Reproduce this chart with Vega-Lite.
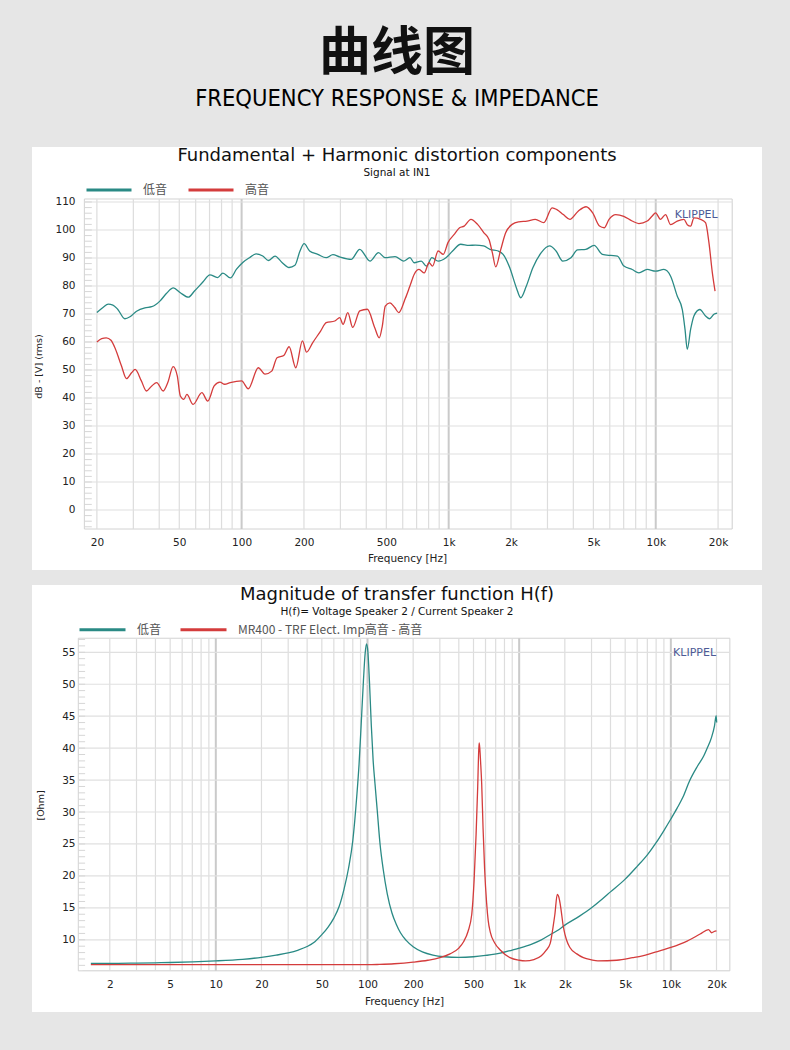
{
"$schema": "https://vega.github.io/schema/vega-lite/v6.json",
"background": "#e6e6e6",
"padding": {"left": 32, "top": 27, "right": 28, "bottom": 39},
"title": {"text": "曲线图", "subtitle": "FREQUENCY RESPONSE & IMPEDANCE", "font": "Noto Sans CJK SC", "fontSize": 52, "fontWeight": "bold", "color": "#111", "subtitleFont": "Liberation Sans Narrow, DejaVu Sans Condensed, sans-serif", "subtitleFontSize": 23.5, "subtitleFontWeight": "normal", "subtitleColor": "#000", "subtitlePadding": 6, "anchor": "middle", "frame": "group", "offset": 36},
"spacing": 15,
"resolve": {"scale": {"color": "independent"}, "legend": {"color": "independent"}},
"config": {"view": {"fill": "white", "stroke": null}, "font": "DejaVu Sans"},
"datasets": {
"tx_minor": [{"g":20},{"g":30},{"g":40},{"g":50},{"g":60},{"g":70},{"g":80},{"g":90},{"g":200},{"g":300},{"g":400},{"g":500},{"g":600},{"g":700},{"g":800},{"g":900},{"g":2000},{"g":3000},{"g":4000},{"g":5000},{"g":6000},{"g":7000},{"g":8000},{"g":9000},{"g":20000}],
"tx_major": [{"g":100},{"g":1000},{"g":10000}],
"ty": [{"g":0},{"g":10},{"g":20},{"g":30},{"g":40},{"g":50},{"g":60},{"g":70},{"g":80},{"g":90},{"g":100},{"g":110}],
"tyt": [{"g":-6},{"g":-4},{"g":-2},{"g":0},{"g":2},{"g":4},{"g":6},{"g":8},{"g":10},{"g":12},{"g":14},{"g":16},{"g":18},{"g":20},{"g":22},{"g":24},{"g":26},{"g":28},{"g":30},{"g":32},{"g":34},{"g":36},{"g":38},{"g":40},{"g":42},{"g":44},{"g":46},{"g":48},{"g":50},{"g":52},{"g":54},{"g":56},{"g":58},{"g":60},{"g":62},{"g":64},{"g":66},{"g":68},{"g":70},{"g":72},{"g":74},{"g":76},{"g":78},{"g":80},{"g":82},{"g":84},{"g":86},{"g":88},{"g":90},{"g":92},{"g":94},{"g":96},{"g":98},{"g":100},{"g":102},{"g":104},{"g":106},{"g":108},{"g":110}],
"bx_minor": [{"g":2},{"g":3},{"g":4},{"g":5},{"g":6},{"g":7},{"g":8},{"g":9},{"g":20},{"g":30},{"g":40},{"g":50},{"g":60},{"g":70},{"g":80},{"g":90},{"g":200},{"g":300},{"g":400},{"g":500},{"g":600},{"g":700},{"g":800},{"g":900},{"g":2000},{"g":3000},{"g":4000},{"g":5000},{"g":6000},{"g":7000},{"g":8000},{"g":9000},{"g":20000}],
"bx_major": [{"g":10},{"g":100},{"g":1000},{"g":10000}],
"by": [{"g":10},{"g":15},{"g":20},{"g":25},{"g":30},{"g":35},{"g":40},{"g":45},{"g":50},{"g":55}],
"byt": [{"g":6},{"g":7},{"g":8},{"g":9},{"g":10},{"g":11},{"g":12},{"g":13},{"g":14},{"g":15},{"g":16},{"g":17},{"g":18},{"g":19},{"g":20},{"g":21},{"g":22},{"g":23},{"g":24},{"g":25},{"g":26},{"g":27},{"g":28},{"g":29},{"g":30},{"g":31},{"g":32},{"g":33},{"g":34},{"g":35},{"g":36},{"g":37},{"g":38},{"g":39},{"g":40},{"g":41},{"g":42},{"g":43},{"g":44},{"g":45},{"g":46},{"g":47},{"g":48},{"g":49},{"g":50},{"g":51},{"g":52},{"g":53},{"g":54},{"g":55},{"g":56},{"g":57}],
"top": [
{"s":"低音","f":20,"v":70.5},{"s":"低音","f":21.4,"v":72.3},{"s":"低音","f":22.7,"v":73.5},{"s":"低音","f":23.9,"v":73.2},{"s":"低音","f":25.2,"v":71.7},{"s":"低音","f":27.3,"v":68.3},{"s":"低音","f":28.9,"v":69.0},{"s":"低音","f":31.1,"v":71.0},{"s":"低音","f":34.1,"v":72.2},{"s":"低音","f":36.8,"v":72.6},{"s":"低音","f":40.3,"v":74.6},{"s":"低音","f":43.3,"v":77.3},{"s":"低音","f":46.8,"v":79.3},{"s":"低音","f":50.6,"v":77.6},{"s":"低音","f":55.3,"v":76.0},{"s":"低音","f":59.2,"v":78.2},{"s":"低音","f":65.0,"v":81.4},{"s":"低音","f":70.3,"v":84.0},{"s":"低音","f":76.5,"v":83.0},{"s":"低音","f":81.2,"v":84.6},{"s":"低音","f":88.3,"v":82.9},{"s":"低音","f":94.5,"v":86.0},{"s":"低音","f":101.3,"v":88.4},{"s":"低音","f":109.2,"v":90.1},{"s":"低音","f":117.5,"v":91.5},{"s":"低音","f":126.5,"v":90.7},{"s":"低音","f":135,"v":89.1},{"s":"低音","f":145,"v":90.7},{"s":"低音","f":156.7,"v":88.4},{"s":"低音","f":169.4,"v":86.6},{"s":"低音","f":181,"v":87.4},{"s":"低音","f":191.4,"v":92.5},{"s":"低音","f":200.4,"v":95.1},{"s":"低音","f":213,"v":92.5},{"s":"低音","f":233.4,"v":91.3},{"s":"低音","f":256,"v":90.1},{"s":"低音","f":276,"v":91.2},{"s":"低音","f":297,"v":90.4},{"s":"低音","f":338,"v":89.5},{"s":"低音","f":372,"v":93.1},{"s":"低音","f":417,"v":88.9},{"s":"低音","f":458,"v":91.9},{"s":"低音","f":493,"v":90.1},{"s":"低音","f":551,"v":90.5},{"s":"低音","f":605,"v":88.9},{"s":"低音","f":650,"v":90.1},{"s":"低音","f":682,"v":88.3},{"s":"低音","f":737,"v":88.9},{"s":"低音","f":781,"v":87.1},{"s":"低音","f":830,"v":90.1},{"s":"低音","f":890,"v":88.9},{"s":"低音","f":970,"v":90.1},{"s":"低音","f":1045,"v":92.5},{"s":"低音","f":1143,"v":94.9},{"s":"低音","f":1253,"v":94.5},{"s":"低音","f":1346,"v":94.6},{"s":"低音","f":1473,"v":94.3},{"s":"低音","f":1584,"v":93.1},{"s":"低音","f":1734,"v":92.5},{"s":"低音","f":1832,"v":91.3},{"s":"低音","f":1973,"v":86.5},{"s":"低音","f":2122,"v":79.4},{"s":"低音","f":2228,"v":75.8},{"s":"低音","f":2370,"v":79.9},{"s":"低音","f":2550,"v":86.5},{"s":"低音","f":2800,"v":91.9},{"s":"低音","f":3070,"v":94.3},{"s":"低音","f":3300,"v":92.5},{"s":"低音","f":3555,"v":88.9},{"s":"低音","f":3895,"v":90.1},{"s":"低音","f":4190,"v":92.9},{"s":"低音","f":4595,"v":93.1},{"s":"低音","f":5040,"v":94.5},{"s":"低音","f":5525,"v":91.3},{"s":"低音","f":6060,"v":90.9},{"s":"低音","f":6530,"v":90.7},{"s":"低音","f":7020,"v":87.1},{"s":"低音","f":7700,"v":85.9},{"s":"低音","f":8290,"v":84.7},{"s":"低音","f":9100,"v":85.9},{"s":"低音","f":9980,"v":85.3},{"s":"低音","f":10950,"v":85.9},{"s":"低音","f":11800,"v":83.5},{"s":"低音","f":12700,"v":76.4},{"s":"低音","f":13440,"v":71.6},{"s":"低音","f":13850,"v":64.5},{"s":"低音","f":14200,"v":57.4},{"s":"低音","f":14740,"v":64.5},{"s":"低音","f":15290,"v":69.3},{"s":"低音","f":16330,"v":71.6},{"s":"低音","f":17400,"v":69.3},{"s":"低音","f":18200,"v":68.3},{"s":"低音","f":19100,"v":69.9},{"s":"低音","f":19800,"v":70.3},
{"s":"高音","f":20,"v":60.0},{"s":"高音","f":21.1,"v":61.2},{"s":"高音","f":22.2,"v":61.5},{"s":"高音","f":23.4,"v":60.6},{"s":"高音","f":24.6,"v":57.4},{"s":"高音","f":26.3,"v":51.4},{"s":"高音","f":27.8,"v":46.9},{"s":"高音","f":29.4,"v":49.0},{"s":"高音","f":30.6,"v":50.2},{"s":"高音","f":32.8,"v":46.1},{"s":"高音","f":34.7,"v":42.5},{"s":"高音","f":36.8,"v":44.3},{"s":"高音","f":38.9,"v":45.5},{"s":"高音","f":41.8,"v":42.5},{"s":"高音","f":44.0,"v":45.5},{"s":"高音","f":46.7,"v":51.2},{"s":"高音","f":48.9,"v":47.9},{"s":"高音","f":50.6,"v":40.7},{"s":"高音","f":52.6,"v":39.5},{"s":"高音","f":54.4,"v":41.3},{"s":"高音","f":58.3,"v":37.7},{"s":"高音","f":64.3,"v":41.9},{"s":"高音","f":68.6,"v":38.9},{"s":"高音","f":73.7,"v":44.3},{"s":"高音","f":78.6,"v":45.7},{"s":"高音","f":82.8,"v":44.9},{"s":"高音","f":88.1,"v":45.5},{"s":"高音","f":100,"v":46.1},{"s":"高音","f":107.7,"v":43.3},{"s":"高音","f":120.4,"v":50.8},{"s":"高音","f":129.7,"v":48.5},{"s":"高音","f":139.7,"v":49.6},{"s":"高音","f":148.3,"v":54.4},{"s":"高音","f":159.8,"v":55.2},{"s":"高音","f":169.6,"v":58.3},{"s":"高音","f":182.6,"v":50.8},{"s":"高音","f":196.7,"v":60.4},{"s":"高音","f":205.8,"v":56.4},{"s":"高音","f":220.6,"v":59.8},{"s":"高音","f":240.7,"v":63.9},{"s":"高音","f":256.2,"v":66.9},{"s":"高音","f":281.8,"v":67.5},{"s":"高音","f":297.8,"v":68.7},{"s":"高音","f":309,"v":66.3},{"s":"高音","f":325.6,"v":70.5},{"s":"高音","f":344,"v":65.2},{"s":"高音","f":372,"v":71.1},{"s":"高音","f":405,"v":71.7},{"s":"高音","f":439,"v":65.2},{"s":"高音","f":462,"v":61.5},{"s":"高音","f":478,"v":65.7},{"s":"高音","f":494,"v":72.8},{"s":"高音","f":520,"v":74.0},{"s":"高音","f":549,"v":72.3},{"s":"高音","f":574,"v":70.5},{"s":"高音","f":617,"v":75.5},{"s":"高音","f":650,"v":80},{"s":"高音","f":682,"v":84.2},{"s":"高音","f":719,"v":85.9},{"s":"高音","f":763,"v":84.7},{"s":"高音","f":804,"v":88.3},{"s":"高音","f":835,"v":87.1},{"s":"高音","f":890,"v":92.5},{"s":"高音","f":942,"v":91.3},{"s":"高音","f":992,"v":95.5},{"s":"高音","f":1069,"v":98.6},{"s":"高音","f":1129,"v":100.8},{"s":"高音","f":1188,"v":101.4},{"s":"高音","f":1281,"v":103.8},{"s":"高音","f":1379,"v":102.0},{"s":"高音","f":1480,"v":99.0},{"s":"高音","f":1566,"v":96.6},{"s":"高音","f":1626,"v":91.8},{"s":"高音","f":1688,"v":86.8},{"s":"高音","f":1784,"v":93.0},{"s":"高音","f":1885,"v":99.0},{"s":"高音","f":2026,"v":102},{"s":"高音","f":2183,"v":102.9},{"s":"高音","f":2390,"v":103.2},{"s":"高音","f":2620,"v":103.8},{"s":"高音","f":2880,"v":102.6},{"s":"高音","f":3160,"v":107.9},{"s":"高音","f":3330,"v":107.3},{"s":"高音","f":3580,"v":105.5},{"s":"高音","f":3850,"v":103.8},{"s":"高音","f":4220,"v":106.7},{"s":"高音","f":4610,"v":108.3},{"s":"高音","f":4960,"v":106.1},{"s":"高音","f":5350,"v":101.4},{"s":"高音","f":5640,"v":100.8},{"s":"高音","f":5950,"v":103.8},{"s":"高音","f":6410,"v":105.5},{"s":"高音","f":7010,"v":104.9},{"s":"高音","f":7690,"v":103.2},{"s":"高音","f":8290,"v":102.3},{"s":"高音","f":9100,"v":103.2},{"s":"高音","f":9620,"v":105},{"s":"高音","f":9980,"v":106.1},{"s":"高音","f":10550,"v":103.8},{"s":"高音","f":11150,"v":105.5},{"s":"高音","f":11800,"v":101.9},{"s":"高音","f":12700,"v":103.2},{"s":"高音","f":13680,"v":103.8},{"s":"高音","f":14200,"v":101.9},{"s":"高音","f":14740,"v":101.4},{"s":"高音","f":15300,"v":104.3},{"s":"高音","f":16470,"v":103.8},{"s":"高音","f":17400,"v":102.6},{"s":"高音","f":18070,"v":95.5},{"s":"高音","f":18770,"v":84.7},{"s":"高音","f":19340,"v":78.2}
],
"bot": [
{"s":"低音","f":1.5,"v":6.3},{"s":"低音","f":2,"v":6.3},{"s":"低音","f":3,"v":6.35},{"s":"低音","f":4,"v":6.4},{"s":"低音","f":5,"v":6.45},{"s":"低音","f":7,"v":6.55},{"s":"低音","f":10,"v":6.7},{"s":"低音","f":15,"v":6.95},{"s":"低音","f":20,"v":7.25},{"s":"低音","f":25,"v":7.6},{"s":"低音","f":30,"v":7.95},{"s":"低音","f":35,"v":8.4},{"s":"低音","f":40,"v":8.95},{"s":"低音","f":45,"v":9.7},{"s":"低音","f":50,"v":10.8},{"s":"低音","f":55,"v":12.0},{"s":"低音","f":60,"v":13.4},{"s":"低音","f":65,"v":15.2},{"s":"低音","f":70,"v":17.9},{"s":"低音","f":75,"v":21.2},{"s":"低音","f":80,"v":25.5},{"s":"低音","f":85,"v":32.5},{"s":"低音","f":88,"v":37.5},{"s":"低音","f":91,"v":44},{"s":"低音","f":94,"v":50.5},{"s":"低音","f":96.5,"v":54.8},{"s":"低音","f":98.5,"v":56.3},{"s":"低音","f":100.5,"v":55.2},{"s":"低音","f":103,"v":50.5},{"s":"低音","f":106,"v":43.5},{"s":"低音","f":109,"v":38},{"s":"低音","f":112,"v":34.5},{"s":"低音","f":116,"v":30.2},{"s":"低音","f":121,"v":25},{"s":"低音","f":127,"v":21},{"s":"低音","f":135,"v":17.2},{"s":"低音","f":145,"v":14.2},{"s":"低音","f":155,"v":12.4},{"s":"低音","f":165,"v":11.1},{"s":"低音","f":180,"v":9.9},{"s":"低音","f":200,"v":8.9},{"s":"低音","f":230,"v":8.1},{"s":"低音","f":270,"v":7.6},{"s":"低音","f":320,"v":7.35},{"s":"低音","f":400,"v":7.25},{"s":"低音","f":500,"v":7.35},{"s":"低音","f":600,"v":7.55},{"s":"低音","f":750,"v":7.9},{"s":"低音","f":900,"v":8.4},{"s":"低音","f":1000,"v":8.7},{"s":"低音","f":1200,"v":9.3},{"s":"低音","f":1400,"v":10.0},{"s":"低音","f":1600,"v":10.8},{"s":"低音","f":1800,"v":11.5},{"s":"低音","f":2000,"v":12.3},{"s":"低音","f":2500,"v":13.7},{"s":"低音","f":3000,"v":15.0},{"s":"低音","f":3500,"v":16.3},{"s":"低音","f":4000,"v":17.5},{"s":"低音","f":5000,"v":19.5},{"s":"低音","f":6000,"v":21.5},{"s":"低音","f":7000,"v":23.3},{"s":"低音","f":8000,"v":25.2},{"s":"低音","f":9000,"v":27.1},{"s":"低音","f":10000,"v":28.9},{"s":"低音","f":11000,"v":30.6},{"s":"低音","f":12000,"v":32.3},{"s":"低音","f":13300,"v":34.9},{"s":"低音","f":15000,"v":37.2},{"s":"低音","f":16500,"v":38.8},{"s":"低音","f":17300,"v":39.9},{"s":"低音","f":18500,"v":41.6},{"s":"低音","f":19400,"v":43.5},{"s":"低音","f":19900,"v":45.1},{"s":"低音","f":20050,"v":44.0},
{"s":"MR400 - TRF Elect. Imp高音 - 高音","f":1.5,"v":6.1},{"s":"MR400 - TRF Elect. Imp高音 - 高音","f":10,"v":6.1},{"s":"MR400 - TRF Elect. Imp高音 - 高音","f":50,"v":6.1},{"s":"MR400 - TRF Elect. Imp高音 - 高音","f":100,"v":6.1},{"s":"MR400 - TRF Elect. Imp高音 - 高音","f":120,"v":6.15},{"s":"MR400 - TRF Elect. Imp高音 - 高音","f":150,"v":6.25},{"s":"MR400 - TRF Elect. Imp高音 - 高音","f":200,"v":6.5},{"s":"MR400 - TRF Elect. Imp高音 - 高音","f":250,"v":6.8},{"s":"MR400 - TRF Elect. Imp高音 - 高音","f":300,"v":7.2},{"s":"MR400 - TRF Elect. Imp高音 - 高音","f":350,"v":7.8},{"s":"MR400 - TRF Elect. Imp高音 - 高音","f":400,"v":8.7},{"s":"MR400 - TRF Elect. Imp高音 - 高音","f":430,"v":9.7},{"s":"MR400 - TRF Elect. Imp高音 - 高音","f":460,"v":11.3},{"s":"MR400 - TRF Elect. Imp高音 - 高音","f":487,"v":14},{"s":"MR400 - TRF Elect. Imp高音 - 高音","f":505,"v":19.5},{"s":"MR400 - TRF Elect. Imp高音 - 高音","f":520,"v":26.5},{"s":"MR400 - TRF Elect. Imp高音 - 高音","f":533,"v":34},{"s":"MR400 - TRF Elect. Imp高音 - 高音","f":541,"v":39.5},{"s":"MR400 - TRF Elect. Imp高音 - 高音","f":545,"v":40.8},{"s":"MR400 - TRF Elect. Imp高音 - 高音","f":550,"v":40},{"s":"MR400 - TRF Elect. Imp高音 - 高音","f":557,"v":37.8},{"s":"MR400 - TRF Elect. Imp高音 - 高音","f":566,"v":34.5},{"s":"MR400 - TRF Elect. Imp高音 - 高音","f":578,"v":27.5},{"s":"MR400 - TRF Elect. Imp高音 - 高音","f":592,"v":21},{"s":"MR400 - TRF Elect. Imp高音 - 高音","f":610,"v":15.8},{"s":"MR400 - TRF Elect. Imp高音 - 高音","f":625,"v":13},{"s":"MR400 - TRF Elect. Imp高音 - 高音","f":645,"v":11.2},{"s":"MR400 - TRF Elect. Imp高音 - 高音","f":690,"v":9.5},{"s":"MR400 - TRF Elect. Imp高音 - 高音","f":750,"v":8.4},{"s":"MR400 - TRF Elect. Imp高音 - 高音","f":870,"v":7.2},{"s":"MR400 - TRF Elect. Imp高音 - 高音","f":1000,"v":6.8},{"s":"MR400 - TRF Elect. Imp高音 - 高音","f":1100,"v":6.7},{"s":"MR400 - TRF Elect. Imp高音 - 高音","f":1250,"v":6.9},{"s":"MR400 - TRF Elect. Imp高音 - 高音","f":1400,"v":7.5},{"s":"MR400 - TRF Elect. Imp高音 - 高音","f":1500,"v":8.3},{"s":"MR400 - TRF Elect. Imp高音 - 高音","f":1600,"v":9.4},{"s":"MR400 - TRF Elect. Imp高音 - 高音","f":1680,"v":12.3},{"s":"MR400 - TRF Elect. Imp高音 - 高音","f":1720,"v":14.0},{"s":"MR400 - TRF Elect. Imp高音 - 高音","f":1783,"v":17.1},{"s":"MR400 - TRF Elect. Imp高音 - 高音","f":1830,"v":16.6},{"s":"MR400 - TRF Elect. Imp高音 - 高音","f":1865,"v":15.6},{"s":"MR400 - TRF Elect. Imp高音 - 高音","f":1960,"v":11.9},{"s":"MR400 - TRF Elect. Imp高音 - 高音","f":2050,"v":10.0},{"s":"MR400 - TRF Elect. Imp高音 - 高音","f":2160,"v":8.8},{"s":"MR400 - TRF Elect. Imp高音 - 高音","f":2400,"v":7.8},{"s":"MR400 - TRF Elect. Imp高音 - 高音","f":2650,"v":7.2},{"s":"MR400 - TRF Elect. Imp高音 - 高音","f":3000,"v":6.85},{"s":"MR400 - TRF Elect. Imp高音 - 高音","f":3300,"v":6.7},{"s":"MR400 - TRF Elect. Imp高音 - 高音","f":4400,"v":6.8},{"s":"MR400 - TRF Elect. Imp高音 - 高音","f":5600,"v":7.2},{"s":"MR400 - TRF Elect. Imp高音 - 高音","f":6500,"v":7.5},{"s":"MR400 - TRF Elect. Imp高音 - 高音","f":7700,"v":8.0},{"s":"MR400 - TRF Elect. Imp高音 - 高音","f":9000,"v":8.45},{"s":"MR400 - TRF Elect. Imp高音 - 高音","f":10000,"v":8.8},{"s":"MR400 - TRF Elect. Imp高音 - 高音","f":12800,"v":9.8},{"s":"MR400 - TRF Elect. Imp高音 - 高音","f":15600,"v":10.9},{"s":"MR400 - TRF Elect. Imp高音 - 高音","f":17700,"v":11.6},{"s":"MR400 - TRF Elect. Imp高音 - 高音","f":18600,"v":11.1},{"s":"MR400 - TRF Elect. Imp高音 - 高音","f":19300,"v":11.3},{"s":"MR400 - TRF Elect. Imp高音 - 高音","f":20000,"v":11.4}
]
},
"vconcat": [
{
"width": 730, "height": 423,
"title": {"text": "Fundamental + Harmonic distortion components", "subtitle": "Signal at IN1", "offset": -31.5, "anchor": "middle", "frame": "group", "font": "DejaVu Sans", "fontSize": 18, "fontWeight": "normal", "color": "#111", "subtitleFont": "DejaVu Sans", "subtitleFontSize": 10.5, "subtitleColor": "#111", "subtitlePadding": 3},
"resolve": {"axis": {"x": "independent", "y": "independent"}},
"layer": [
{"data": {"values": [{}]}, "mark": {"type": "rect", "fill": "#c6c6c6", "xOffset": 4, "yOffset": 4},
 "encoding": {"x": {"datum": 17.4, "type": "quantitative", "scale": {"type": "log", "domain": [9.72, 32600], "nice": false}, "axis": null}, "x2": {"datum": 23400}, "y": {"datum": 111.07, "type": "quantitative", "scale": {"domain": [-21.43, 129.64], "nice": false, "zero": false}, "axis": null}, "y2": {"datum": -6.79}}},
{"data": {"values": [{}]}, "mark": {"type": "rect", "fill": "white", "stroke": "#d2d2d2", "strokeWidth": 1},
 "encoding": {"x": {"datum": 17.4, "type": "quantitative", "scale": {"type": "log", "domain": [9.72, 32600], "nice": false}, "axis": null}, "x2": {"datum": 23400}, "y": {"datum": 111.07, "type": "quantitative", "scale": {"domain": [-21.43, 129.64], "nice": false, "zero": false}, "axis": null}, "y2": {"datum": -6.79}}},
{"data": {"name": "tx_minor"}, "mark": {"type": "rule", "color": "#dddddd", "strokeWidth": 1.2},
 "encoding": {"x": {"field": "g", "type": "quantitative", "scale": {"type": "log", "domain": [9.72, 32600], "nice": false}, "axis": null}, "y": {"datum": -6.79, "type": "quantitative", "scale": {"domain": [-21.43, 129.64], "nice": false, "zero": false}, "axis": null}, "y2": {"datum": 111.07}}},
{"data": {"name": "tx_major"}, "mark": {"type": "rule", "color": "#cacaca", "strokeWidth": 2},
 "encoding": {"x": {"field": "g", "type": "quantitative", "scale": {"type": "log", "domain": [9.72, 32600], "nice": false}, "axis": null}, "y": {"datum": -6.79, "type": "quantitative", "scale": {"domain": [-21.43, 129.64], "nice": false, "zero": false}, "axis": null}, "y2": {"datum": 111.07}}},
{"data": {"name": "ty"}, "mark": {"type": "rule", "color": "#e0e0e0", "strokeWidth": 1.2},
 "encoding": {"y": {"field": "g", "type": "quantitative", "scale": {"domain": [-21.43, 129.64], "nice": false, "zero": false}, "axis": null}, "x": {"datum": 17.4, "type": "quantitative", "scale": {"type": "log", "domain": [9.72, 32600], "nice": false}, "axis": null}, "x2": {"datum": 23400}}},
{"data": {"name": "tyt"}, "mark": {"type": "rule", "color": "#d6d6d6", "strokeWidth": 1},
 "encoding": {"y": {"field": "g", "type": "quantitative", "scale": {"domain": [-21.43, 129.64], "nice": false, "zero": false}, "axis": null}, "x": {"datum": 17.4, "type": "quantitative", "scale": {"type": "log", "domain": [9.72, 32600], "nice": false}, "axis": null}, "x2": {"datum": 18.9}}},
{"data": {"name": "top"}, "mark": {"type": "line", "strokeWidth": 1.3, "interpolate": "monotone"},
 "encoding": {
  "x": {"field": "f", "type": "quantitative", "scale": {"type": "log", "domain": [9.72, 32600], "nice": false},
   "axis": {"orient": "bottom", "values": [20, 50, 100, 200, 500, 1000, 2000, 5000, 10000, 20000], "labelExpr": "datum.value >= 1000 ? (datum.value / 1000) + 'k' : '' + datum.value", "offset": -41, "domain": false, "ticks": false, "tickSize": 0, "grid": false, "labelFont": "DejaVu Sans", "labelFontSize": 10.5, "labelColor": "#222", "labelPadding": 8, "labelFlush": false, "labelOverlap": false, "title": "Frequency [Hz]", "titleFont": "DejaVu Sans", "titleFontSize": 10.5, "titleFontWeight": "normal", "titleColor": "#222", "titleX": 375, "titleY": 29, "titleBaseline": "middle", "titleAlign": "center", "zindex": 1}},
  "y": {"field": "v", "type": "quantitative", "scale": {"domain": [-21.43, 129.64], "nice": false, "zero": false},
   "axis": {"orient": "left", "values": [0, 10, 20, 30, 40, 50, 60, 70, 80, 90, 100, 110], "offset": -52, "domain": false, "ticks": false, "tickSize": 0, "grid": false, "labelFont": "DejaVu Sans", "labelFontSize": 10.5, "labelColor": "#222", "labelPadding": 9, "labelFlush": false, "labelOverlap": false, "labelSeparation": 0, "labelBound": false, "title": "dB - [V]  (rms)", "titleFont": "DejaVu Sans", "titleFontSize": 9.5, "titleFontWeight": "normal", "titleColor": "#222", "titleX": -46, "titleY": 219, "titleAngle": -90, "titleBaseline": "middle", "titleAlign": "center", "zindex": 1}},
  "color": {"field": "s", "type": "nominal", "scale": {"domain": ["低音", "高音"], "range": ["#2a8a85", "#d43c3c"]},
   "legend": {"title": null, "orient": "none", "legendX": 53, "legendY": 19, "direction": "horizontal", "symbolType": "stroke", "symbolSize": 2025, "symbolStrokeWidth": 3, "labelFont": "Noto Sans CJK SC", "labelFontSize": 12, "labelColor": "#555", "labelOffset": 10, "columnPadding": 14, "padding": 0}}
 }},
{"data": {"values": [{}]}, "mark": {"type": "text", "text": "KLIPPEL", "font": "DejaVu Sans", "fontSize": 11, "color": "#4d5a96", "align": "right", "baseline": "middle"},
 "encoding": {"x": {"datum": 19900, "type": "quantitative", "scale": {"type": "log", "domain": [9.72, 32600], "nice": false}, "axis": null}, "y": {"datum": 105.4, "type": "quantitative", "scale": {"domain": [-21.43, 129.64], "nice": false, "zero": false}, "axis": null}}}
]
},
{
"width": 730, "height": 427,
"title": {"text": "Magnitude of transfer function H(f)", "subtitle": "H(f)= Voltage Speaker 2 / Current Speaker 2", "offset": -32, "anchor": "middle", "frame": "group", "font": "DejaVu Sans", "fontSize": 18, "fontWeight": "normal", "color": "#111", "subtitleFont": "DejaVu Sans", "subtitleFontSize": 10.5, "subtitleColor": "#111", "subtitlePadding": 3},
"resolve": {"axis": {"x": "independent", "y": "independent"}},
"layer": [
{"data": {"values": [{}]}, "mark": {"type": "rect", "fill": "#c6c6c6", "xOffset": 4, "yOffset": 4},
 "encoding": {"x": {"datum": 1.24, "type": "quantitative", "scale": {"type": "log", "domain": [0.614, 39900], "nice": false}, "axis": null}, "x2": {"datum": 24500}, "y": {"datum": 57.2, "type": "quantitative", "scale": {"domain": [-1.3, 65.53], "nice": false, "zero": false}, "axis": null}, "y2": {"datum": 5.14}}},
{"data": {"values": [{}]}, "mark": {"type": "rect", "fill": "white", "stroke": "#d2d2d2", "strokeWidth": 1},
 "encoding": {"x": {"datum": 1.24, "type": "quantitative", "scale": {"type": "log", "domain": [0.614, 39900], "nice": false}, "axis": null}, "x2": {"datum": 24500}, "y": {"datum": 57.2, "type": "quantitative", "scale": {"domain": [-1.3, 65.53], "nice": false, "zero": false}, "axis": null}, "y2": {"datum": 5.14}}},
{"data": {"name": "bx_minor"}, "mark": {"type": "rule", "color": "#dddddd", "strokeWidth": 1.2},
 "encoding": {"x": {"field": "g", "type": "quantitative", "scale": {"type": "log", "domain": [0.614, 39900], "nice": false}, "axis": null}, "y": {"datum": 5.14, "type": "quantitative", "scale": {"domain": [-1.3, 65.53], "nice": false, "zero": false}, "axis": null}, "y2": {"datum": 57.2}}},
{"data": {"name": "bx_major"}, "mark": {"type": "rule", "color": "#cacaca", "strokeWidth": 2},
 "encoding": {"x": {"field": "g", "type": "quantitative", "scale": {"type": "log", "domain": [0.614, 39900], "nice": false}, "axis": null}, "y": {"datum": 5.14, "type": "quantitative", "scale": {"domain": [-1.3, 65.53], "nice": false, "zero": false}, "axis": null}, "y2": {"datum": 57.2}}},
{"data": {"name": "by"}, "mark": {"type": "rule", "color": "#e0e0e0", "strokeWidth": 1.2},
 "encoding": {"y": {"field": "g", "type": "quantitative", "scale": {"domain": [-1.3, 65.53], "nice": false, "zero": false}, "axis": null}, "x": {"datum": 1.24, "type": "quantitative", "scale": {"type": "log", "domain": [0.614, 39900], "nice": false}, "axis": null}, "x2": {"datum": 24500}}},
{"data": {"name": "byt"}, "mark": {"type": "rule", "color": "#d6d6d6", "strokeWidth": 1},
 "encoding": {"y": {"field": "g", "type": "quantitative", "scale": {"domain": [-1.3, 65.53], "nice": false, "zero": false}, "axis": null}, "x": {"datum": 1.24, "type": "quantitative", "scale": {"type": "log", "domain": [0.614, 39900], "nice": false}, "axis": null}, "x2": {"datum": 1.375}}},
{"data": {"name": "bot"}, "mark": {"type": "line", "strokeWidth": 1.3, "interpolate": "monotone"},
 "encoding": {
  "x": {"field": "f", "type": "quantitative", "scale": {"type": "log", "domain": [0.614, 39900], "nice": false},
   "axis": {"orient": "bottom", "values": [2, 5, 10, 20, 50, 100, 200, 500, 1000, 2000, 5000, 10000, 20000], "labelExpr": "datum.value >= 1000 ? (datum.value / 1000) + 'k' : '' + datum.value", "offset": -41, "domain": false, "ticks": false, "tickSize": 0, "grid": false, "labelFont": "DejaVu Sans", "labelFontSize": 10.5, "labelColor": "#222", "labelPadding": 8, "labelFlush": false, "labelOverlap": false, "title": "Frequency [Hz]", "titleFont": "DejaVu Sans", "titleFontSize": 10.5, "titleFontWeight": "normal", "titleColor": "#222", "titleX": 372, "titleY": 30, "titleBaseline": "middle", "titleAlign": "center", "zindex": 1}},
  "y": {"field": "v", "type": "quantitative", "scale": {"domain": [-1.3, 65.53], "nice": false, "zero": false},
   "axis": {"orient": "left", "values": [10, 15, 20, 25, 30, 35, 40, 45, 50, 55], "offset": -46, "domain": false, "ticks": false, "tickSize": 0, "grid": false, "labelFont": "DejaVu Sans", "labelFontSize": 10.5, "labelColor": "#222", "labelPadding": 3, "labelFlush": false, "labelOverlap": false, "labelSeparation": 0, "labelBound": false, "title": "[Ohm]", "titleFont": "DejaVu Sans", "titleFontSize": 9.5, "titleFontWeight": "normal", "titleColor": "#222", "titleX": -38, "titleY": 220, "titleAngle": -90, "titleBaseline": "middle", "titleAlign": "center", "zindex": 1}},
  "color": {"field": "s", "type": "nominal", "scale": {"domain": ["低音", "MR400 - TRF Elect. Imp高音 - 高音"], "range": ["#2a8a85", "#d43c3c"]},
   "legend": {"title": null, "orient": "none", "legendX": 46, "legendY": 20, "direction": "horizontal", "symbolType": "stroke", "symbolSize": 2116, "symbolStrokeWidth": 3, "labelFont": "Noto Sans CJK SC", "labelFontSize": 12, "labelColor": "#555", "labelOffset": 10, "columnPadding": 12, "padding": 0, "labelLimit": 400}}
 }},
{"data": {"values": [{}]}, "mark": {"type": "text", "text": "KLIPPEL", "font": "DejaVu Sans", "fontSize": 11, "color": "#4d5a96", "align": "right", "baseline": "middle"},
 "encoding": {"x": {"datum": 19860, "type": "quantitative", "scale": {"type": "log", "domain": [0.614, 39900], "nice": false}, "axis": null}, "y": {"datum": 54.9, "type": "quantitative", "scale": {"domain": [-1.3, 65.53], "nice": false, "zero": false}, "axis": null}}}
]
}
]
}
